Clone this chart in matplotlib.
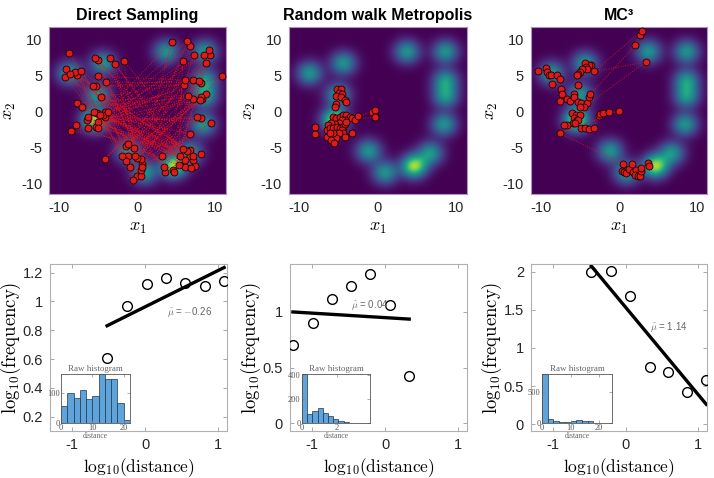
import math
import numpy as np
import matplotlib
matplotlib.use("Agg")
import matplotlib.pyplot as plt
from matplotlib.ticker import FuncFormatter

plt.rcParams['font.family'] = ['Liberation Sans', 'DejaVu Sans']
plt.rcParams['mathtext.fontset'] = 'cm'
plt.rcParams['axes.unicode_minus'] = False

# ---- target density: gaussian mixture components ----
comp_x = [-8.7, -4.4, 3.7, 8.6, 8.6, 8.6, 8.4, -5.1, -5.5, -1.2, 0.9, 4.6, 6.7]
comp_y = [5.3, 6.7, 8.3, 8.3, 4.3, 2.1, -1.8, 2.3, -1.2, -5.5, -8.5, -7.6, -5.8]
comp_w = [1, 1, 1, 1, 1, 1, 1, 1, 1.7, 1, 1, 1.7, 1]
comp_sd = 1.12

# ---- samples (in chain order) ----
ds_x = [-8.8, -9.2, -9.3, -8.6, -8.0, -7.7, -7.2, -5.4, -5.0, -3.5,
        -2.9, -1.7, -5.0, -5.7, -5.3, -4.7, -4.0, -7.7, -7.1, -7.9,
        -8.5, -5.6, -5.2, -6.3, -6.5, -5.1, -4.8, -4.4, -4.2, -3.8,
        -4.1, -5.3, -5.0, -6.4, -4.2, -1.2, -1.4, -0.5, -2.0, -1.2,
        -0.3, -1.5, -0.9, 0.0, 0.5, 0.6, 0.6, 0.4, 0.0, -0.6,
        0.4, 3.2, 3.4, 3.5, 4.6, 4.7, 5.3, 5.8, 6.3, 6.8,
        5.4, 6.1, 6.7, 7.1, 7.1, 6.1, 6.9, 7.4, 8.1, 6.1,
        6.0, 7.1, 7.9, 8.1, 8.8, 8.2, 8.3, 8.0, 6.5, 7.1,
        10.9, 7.6, 8.1, 9.4, 6.8, 4.4, 6.4, 6.8, 7.2, 8.5,
        9.2, 9.3, 8.8, 5.8]
ds_y = [8.2, 5.9, 4.8, 5.2, 5.5, 5.1, 5.6, 7.5, 7.2, 7.5,
        6.6, 7.0, 4.9, 3.5, 3.5, 2.0, 4.1, 1.2, 0.6, -1.8,
        -2.7, 0.0, -0.2, -0.8, -1.2, -1.4, -0.5, -0.5, -0.1, 0.0,
        -0.8, -2.1, -2.3, -2.2, -6.5, -4.5, -4.8, -5.1, -6.2, -6.2,
        -6.2, -6.9, -7.6, -6.4, -6.6, -7.2, -7.6, -8.1, -8.9, -9.5,
        -8.9, -6.2, -7.6, -8.3, -8.1, -8.4, -7.4, -5.2, -5.4, -5.3,
        -6.2, -6.7, -6.1, -6.1, -6.7, -7.6, -7.8, -7.5, -5.9, 4.4,
        3.7, 4.4, 4.2, 4.0, 2.5, 2.1, 1.8, 1.6, 2.2, 1.8,
        4.9, -0.8, -0.9, -1.6, -3.1, 9.7, 9.8, 9.1, 7.9, 7.8,
        8.5, 7.9, 6.8, 7.0]

rwm_pts = [(-5.2, 3.1), (-4.7, 3.1), (-5.0, 2.6), (-4.5, 2.4), (-5.3, 2.2),
           (-4.7, 2.0), (-4.2, 1.6), (-4.1, 1.4), (-5.3, 1.1), (-5.5, 0.6),
           (-5.7, -0.7), (-5.3, -0.9), (-4.8, -0.8), (-4.4, -0.5), (-4.0, -0.5),
           (-3.5, -0.7), (-3.3, -0.9), (-2.9, -1.1), (-2.5, -0.6), (-0.7, 0.0),
           (-0.3, 0.2), (-0.4, -0.8), (-4.2, -1.1), (-4.6, -1.2), (-5.0, -1.5),
           (-5.5, -1.7), (-5.9, -1.6), (-6.3, -1.8), (-6.5, -2.5), (-8.0, -2.1),
           (-8.0, -3.1), (-6.5, -3.5), (-6.1, -2.3), (-5.7, -2.3), (-5.2, -2.1),
           (-4.8, -2.3), (-4.4, -2.1), (-4.2, -1.7), (-4.0, -1.4), (-4.6, -2.6),
           (-4.4, -2.9), (-3.3, -2.9), (-4.2, -3.5), (-5.0, -3.0), (-5.3, -3.6),
           (-5.7, -3.0), (-6.1, -2.9), (-5.9, -3.9), (-5.6, -4.4)]

mc3_pts = [(-10.4, 5.7), (-9.4, 6.0), (-9.2, 5.5), (-9.0, 5.1), (-8.7, 5.1),
           (-7.9, 5.1), (-7.5, 4.6), (-8.6, 3.9), (-7.4, 3.1), (-7.3, 2.5),
           (-7.5, 1.5), (-6.7, 1.8), (-6.3, 1.5), (-5.8, 2.5), (-5.3, 3.7),
           (-5.7, 2.0), (-5.3, 1.4), (-4.8, 1.2), (-4.1, 1.2), (-3.8, 2.1),
           (-3.7, 2.4), (2.1, 9.2), (2.7, 10.7), (2.9, 11.2), (-3.2, 5.6),
           (-3.6, 6.5), (-3.9, 6.5), (-4.3, 6.7), (-4.2, 6.2), (-4.1, 5.9),
           (-4.7, 5.9), (-5.0, 5.5), (-5.2, 5.2), (-5.4, 5.1), (3.4, 6.9),
           (-4.5, 0.6), (-5.0, 0.6), (-6.0, -0.2), (-5.5, -0.5), (-5.0, -0.5),
           (-5.8, -0.9), (-5.4, -1.1), (-5.3, -1.2), (-5.9, -1.6), (-5.6, -1.6),
           (-6.6, -1.8), (-7.0, -1.8), (-4.8, -2.2), (-4.4, -2.2), (-3.8, -2.4),
           (-3.2, -2.3), (-2.6, -0.6), (-2.4, -0.3), (-2.1, -0.2), (-1.3, -0.1),
           (0.0, 0.1), (-7.6, -3.0), (0.5, -7.2), (0.4, -8.2), (0.7, -8.3),
           (0.9, -8.5), (1.3, -8.0), (1.6, -7.2), (1.8, -8.4), (2.2, -8.1),
           (2.1, -8.8), (2.4, -8.9), (2.7, -8.9), (2.8, -8.2), (2.8, -7.8),
           (3.7, -7.1), (3.8, -7.5)]

titles = ["Direct Sampling", "Random walk Metropolis", "MC\u00b3"]

# ---- jump-distance statistics ----
ds_logd = [-0.52, -0.25, 0.02, 0.29, 0.55, 0.82, 1.08]
ds_logf = [0.61, 0.97, 1.12, 1.16, 1.13, 1.11, 1.14]
rwm_logd = [-1.26, -0.99, -0.725, -0.467, -0.20, 0.068, 0.33]
rwm_logf = [0.70, 0.90, 1.12, 1.23, 1.34, 1.06, 0.42]
mc3_logd = [-0.47, -0.20, 0.068, 0.33, 0.59, 0.85, 1.11]
mc3_logf = [2.0, 2.01, 1.68, 0.75, 0.68, 0.42, 0.58]
mu_labels = [r"$\hat{\mu}$ = $-$0.26", r"$\hat{\mu}$ = 0.04", r"$\hat{\mu}$ = 1.14"]

# raw histograms of jump distances
ds_hist = [56, 99, 82, 109, 78, 89, 162, 146, 146, 66, 11]
ds_bin = 2.0
rwm_hist = [410, 75, 104, 122, 84, 56, 33, 15, 6, 3, 1, 1, 0]
rwm_bin = 0.3
mc3_hist = [790, 60, 33, 16, 22, 38, 44, 38, 33, 5, 3, 2]
mc3_bin = 2.0

W, H = 714, 478
fig = plt.figure(figsize=(W / 100, H / 100), dpi=100)


def box(l, t, r, b):
    return [l / W, 1 - b / H, (r - l) / W, (b - t) / H]


xlim_top = (-11.3, 11.3)
ylim_top = (-11.45, 11.7)
gx = np.linspace(*xlim_top, 400)
gy = np.linspace(*ylim_top, 400)
XX, YY = np.meshgrid(gx, gy)
dens = np.zeros_like(XX)
for cx, cy, w in zip(comp_x, comp_y, comp_w):
    dens += w * np.exp(-((XX - cx) ** 2 + (YY - cy) ** 2) / (2 * comp_sd ** 2))

n1 = len(ds_x)
step = 37
while math.gcd(step, n1) != 1:
    step += 1
order1 = [(i * step) % n1 for i in range(n1)]
ds_pts = np.array([(ds_x[i], ds_y[i]) for i in order1])
chains = [ds_pts, np.array(rwm_pts), np.array(mc3_pts)]

top_boxes = [(49.3, 27.3, 225.5, 194.3), (289, 27.3, 466.7, 194.3), (530.7, 27.3, 707.3, 194.3)]
for k in range(3):
    ax = fig.add_axes(box(*top_boxes[k]))
    ax.imshow(dens, extent=(*xlim_top, *ylim_top), origin='lower', cmap='viridis',
              vmin=0, vmax=2.0, aspect='auto', interpolation='bilinear')
    pts = chains[k]
    ax.plot(pts[:, 0], pts[:, 1], ls=(0, (1, 1.5)), color='#e8141a', lw=0.7, alpha=0.8, zorder=2)
    ax.scatter(pts[:, 0], pts[:, 1], s=25, c='#dc1c1c', edgecolors='#1a0000',
               linewidths=0.6, zorder=3)
    ax.set_xlim(xlim_top)
    ax.set_ylim(ylim_top)
    ax.set_xticks([-10, 0, 10])
    ax.set_yticks([-10, -5, 0, 5, 10])
    ax.tick_params(length=0, labelsize=10.5, colors='#262626', pad=5)
    for s in ax.spines.values():
        s.set_color('#a995c6')
        s.set_linewidth(0.8)
    ax.set_xlabel(r"$x_1$", fontsize=13, labelpad=3)
    ax.set_ylabel(r"$x_2$", fontsize=13, labelpad=2)
    ax.set_title(titles[k], fontsize=11.5, fontweight='bold', pad=5)

bot_boxes = [(50, 264, 227, 431), (290, 264, 467, 431), (531, 264, 707, 431)]
ins_boxes = [(61, 374, 130, 423), (302, 374, 370, 423), (542, 374, 612, 423)]
logd = [ds_logd, rwm_logd, mc3_logd]
logf = [ds_logf, rwm_logf, mc3_logf]
ylims = [(0.1, 1.26), (-0.07, 1.43), (-0.09, 2.1)]
yticks = [[0.2, 0.4, 0.6, 0.8, 1.0, 1.2], [0, 0.5, 1], [0, 0.5, 1, 1.5, 2]]
mu_pos = [(0.30, 0.93), (-0.47, 1.06), (0.34, 1.27)]
hists = [ds_hist, rwm_hist, mc3_hist]
bins = [ds_bin, rwm_bin, mc3_bin]
hx_lims = [(0, 22), (0, 3.93), (0, 24.5)]
hx_ticks = [[0, 10, 20], [0, 2], [0, 10, 20]]
hy_ticks = [[0, 100], [0, 200, 400], [0, 500]]
fmt = FuncFormatter(lambda v, p: f"{v:g}")
serif = ['Liberation Serif', 'DejaVu Serif']

for k in range(3):
    ax = fig.add_axes(box(*bot_boxes[k]))
    x = np.array(logd[k])
    y = np.array(logf[k])
    ax.plot(x, y, 'o', mfc='none', mec='black', ms=7, mew=1.0, zorder=3)
    slope, icpt = np.polyfit(x, y, 1)
    xl = np.array([x.min(), x.max()])
    ax.plot(xl, slope * xl + icpt, color='black', lw=2.4, zorder=2)
    ax.text(*mu_pos[k], mu_labels[k], fontsize=7, color='#666666', va='center')
    ax.set_xlim(-1.3, 1.12)
    ax.set_ylim(ylims[k])
    ax.set_xticks([-1, 0, 1])
    ax.set_yticks(yticks[k])
    ax.xaxis.set_major_formatter(fmt)
    ax.yaxis.set_major_formatter(fmt)
    ax.tick_params(direction='in', length=3, width=0.6, color='#999999',
                   labelsize=10.5, labelcolor='#262626', top=True, right=True, pad=5)
    for s in ax.spines.values():
        s.set_color('#b0b0b0')
        s.set_linewidth(0.8)
    ax.set_xlabel(r"$\mathrm{log}_{10}(\mathrm{distance})$", fontsize=12.5, labelpad=3)
    ax.set_ylabel(r"$\mathrm{log}_{10}(\mathrm{frequency})$", fontsize=13.5, labelpad=0)

    ins = fig.add_axes(box(*ins_boxes[k]))
    counts = hists[k]
    edges = np.arange(len(counts)) * bins[k]
    ins.bar(edges, counts, width=bins[k], align='edge', color='#5ea3d9',
            edgecolor='#1f3550', linewidth=0.5)
    ins.set_xlim(hx_lims[k])
    ins.set_ylim(0, max(counts))
    ins.set_xticks(hx_ticks[k])
    ins.set_yticks(hy_ticks[k])
    ins.tick_params(direction='in', length=2, width=0.5, color='#888888', labelsize=6,
                    labelcolor='#555555', pad=1, top=True, right=True)
    for lab in ins.get_xticklabels() + ins.get_yticklabels():
        lab.set_family(serif)
    for s in ins.spines.values():
        s.set_color('#555555')
        s.set_linewidth(0.6)
    ins.set_title("Raw histogram", fontsize=6.5, color='#666666', pad=2, family=serif)
    ins.set_xlabel("distance", fontsize=5.5, color='#666666', labelpad=0, family=serif)

fig.savefig("out.png", dpi=100)
